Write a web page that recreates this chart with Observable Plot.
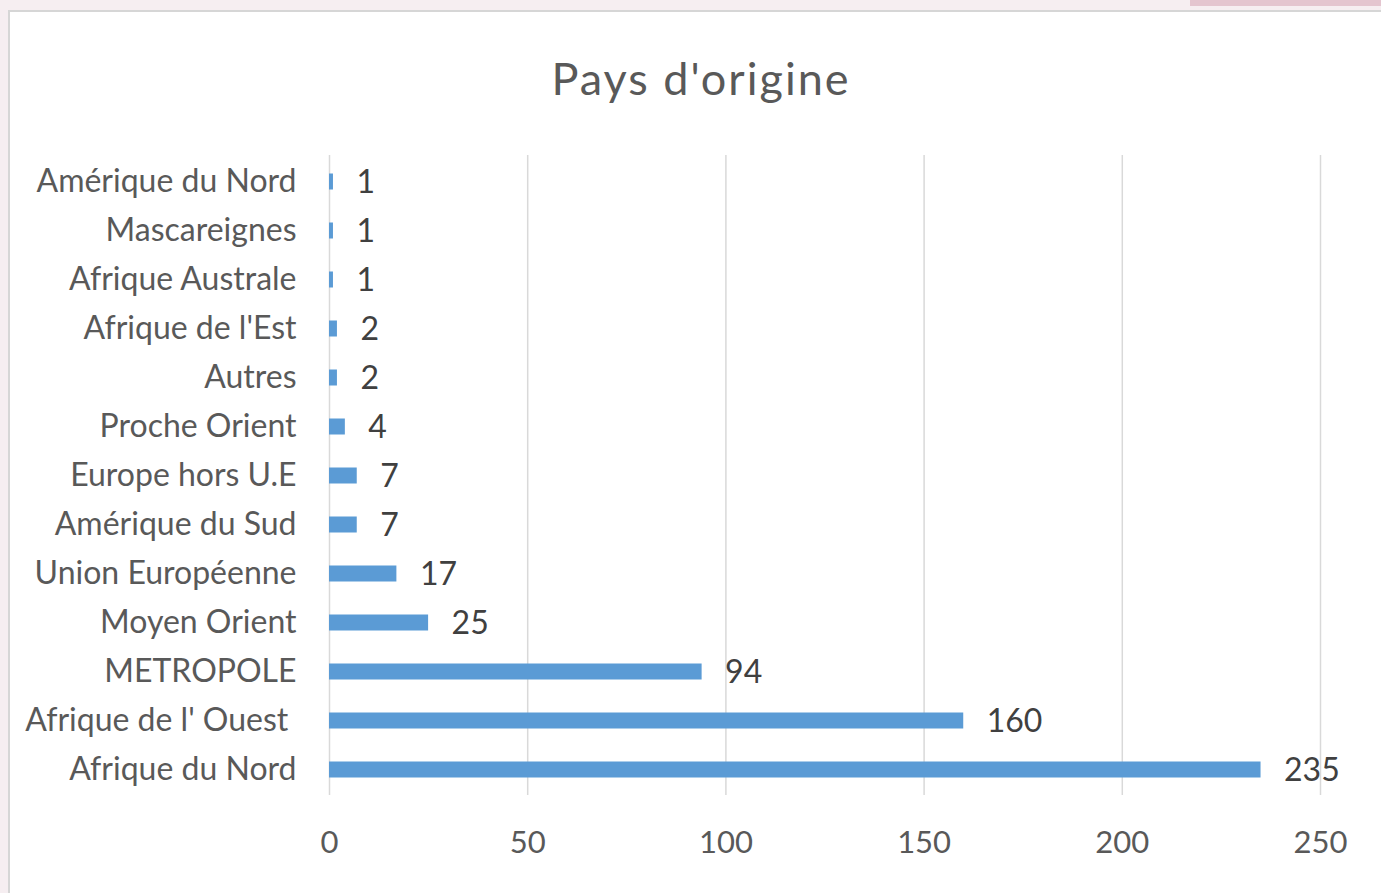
<!DOCTYPE html>
<html>
<head>
<meta charset="utf-8">
<script src="https://cdn.jsdelivr.net/npm/d3@7"></script>
<script src="https://cdn.jsdelivr.net/npm/@observablehq/plot@0.6"></script>
<style>
  html, body { margin: 0; padding: 0; width: 1381px; height: 893px; overflow: hidden; background: #f6eef1; }
  #frame { position: absolute; left: 8px; top: 10px; width: 1400px; height: 900px; background: #fff; border-left: 2px solid #d6d6d6; border-top: 2px solid #d6d6d6; }
  #strip { position: absolute; left: 1190px; top: 0; width: 200px; height: 6px; background: #e4c5cf; }
  #chart { position: absolute; left: 0; top: 0; }
  #title { position: absolute; left: 0; width: 1402px; top: 51px; text-align: center; font-family: Lato, "Open Sans", sans-serif; font-size: 45px; letter-spacing: 2px; color: #595959; }
</style>
</head>
<body>
<div id="strip"></div>
<div id="frame"></div>
<div id="chart"></div>
<div id="title">Pays d'origine</div>
<script>
const categories = ["Amérique du Nord", "Mascareignes", "Afrique Australe", "Afrique de l'Est", "Autres", "Proche Orient", "Europe hors U.E", "Amérique du Sud", "Union Européenne", "Moyen Orient", "METROPOLE", "Afrique de l'\u00a0Ouest\u00a0", "Afrique du Nord"];
const values = [1, 1, 1, 2, 2, 4, 7, 7, 17, 25, 94, 160, 235];
const xTicks = [0, 50, 100, 150, 200, 250];

const data = categories.map((c, i) => ({cat: c, value: values[i]}));
const font = "Lato, 'Open Sans', sans-serif";

const plot = Plot.plot({
  width: 1381,
  height: 893,
  marginLeft: 329,
  marginRight: 61,
  marginTop: 155,
  marginBottom: 98,
  style: {fontFamily: font, background: "transparent", color: "#595959"},
  x: {domain: [0, 250], ticks: xTicks},
  y: {domain: categories, padding: 0},
  marks: [
    Plot.gridX(xTicks, {stroke: "#d9d9d9", strokeOpacity: 1, strokeWidth: 1.5}),
    Plot.barX(data, {x: "value", y: "cat", fill: "#5b9bd5", insetTop: 16.5, insetBottom: 16.5}),
    Plot.text(data, {x: "value", y: "cat", text: d => String(d.value), textAnchor: "start", dx: 23, dy: 1, fontSize: 32, fill: "#404040"}),
    Plot.axisY({tickSize: 0, tickPadding: 33, fontSize: 32, fill: "#595959", label: null}),
    Plot.axisX({ticks: xTicks, tickSize: 0, tickPadding: 35, fontSize: 31, fill: "#595959", label: null})
  ]
});
document.getElementById("chart").appendChild(plot);
</script>
</body>
</html>
